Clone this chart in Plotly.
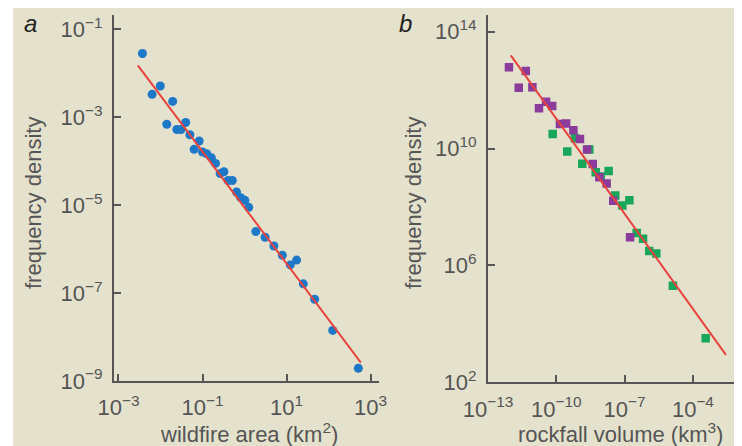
import plotly.graph_objects as go

# ---- Data (log10 values) ----
wildfire_log_area = [-2.43, -2.20, -2.005, -1.71, -1.85, -1.61, -1.51, -1.40, -1.30, -1.08,
                     -1.20, -1.00, -0.90, -0.79, -0.69, -0.58, -0.49, -0.39, -0.29, -0.19,
                     -0.09, 0.01, 0.10, 0.27, 0.49, 0.70, 0.90, 1.09, 1.24, 1.40,
                     1.67, 2.10, 2.71]
wildfire_log_density = [-1.55, -2.48, -2.29, -2.64, -3.16, -3.28, -3.28, -3.12, -3.40, -3.54,
                        -3.73, -3.79, -3.83, -3.92, -4.05, -4.28, -4.24, -4.44, -4.44, -4.70,
                        -4.83, -4.89, -5.05, -5.60, -5.73, -5.93, -6.14, -6.36, -6.25, -6.79,
                        -7.14, -7.85, -8.71]
wildfire_fit_log_area = [-2.54, 2.77]
wildfire_fit_log_density = [-1.82, -8.58]

rock_purple_log_vol = [-12.08, -11.65, -11.34, -11.05, -10.76, -10.45, -10.18, -9.84, -9.57,
                       -9.25, -8.96, -8.65, -8.40, -8.11, -7.79, -7.50, -6.76]
rock_purple_log_density = [12.78, 12.08, 12.65, 12.10, 11.38, 11.60, 11.46, 10.84, 10.86,
                           10.63, 10.33, 9.97, 9.47, 9.02, 8.80, 8.21, 6.96]
rock_green_log_vol = [-10.16, -9.52, -9.18, -8.86, -8.55, -8.27, -8.05, -7.70, -7.41, -7.10,
                      -6.79, -6.47, -6.19, -5.92, -5.61, -4.88, -3.44]
rock_green_log_density = [10.50, 9.90, 10.35, 9.48, 9.97, 9.19, 9.04, 9.23, 8.39, 8.05,
                          8.23, 7.11, 6.91, 6.49, 6.41, 5.30, 3.51]
rock_fit_log_vol = [-12.00, -2.55]
rock_fit_log_density = [13.19, 2.94]

a_xtick_exp = [-3, -1, 1, 3]
a_ytick_exp = [-1, -3, -5, -7, -9]
b_xtick_exp = [-13, -10, -7, -4]
b_ytick_exp = [14, 10, 6, 2]

# ---- Styling ----
PAGE_W, PAGE_H = 742, 446
OFF = 8  # default page body margin
W, H = PAGE_W - OFF, PAGE_H - OFF
BG = "#e4e2cd"
GREY = "#555555"
FONT = "Liberation Sans"
BLUE = "#1e78c8"
PURPLE = "#8a3b9c"
GREEN = "#18a65a"
RED = "#e8423c"


def pw(px):
    return (px - OFF) / W


def ph(py):
    return 1 - (py - OFF) / H


def pow_lbl(e):
    s = str(e).replace("-", "\u2212")
    return f"10<sup>{s}</sup>"


def tenpow(v):
    return [10 ** x for x in v]


fig = go.Figure()

fig.add_trace(go.Scatter(x=tenpow(wildfire_log_area), y=tenpow(wildfire_log_density),
                         mode="markers", marker=dict(color=BLUE, size=9, symbol="circle"),
                         xaxis="x", yaxis="y", showlegend=False))
fig.add_trace(go.Scatter(x=tenpow(wildfire_fit_log_area), y=tenpow(wildfire_fit_log_density),
                         mode="lines", line=dict(color=RED, width=2),
                         xaxis="x", yaxis="y", showlegend=False))

fig.add_trace(go.Scatter(x=tenpow(rock_green_log_vol), y=tenpow(rock_green_log_density),
                         mode="markers", marker=dict(color=GREEN, size=8.5, symbol="square"),
                         xaxis="x2", yaxis="y2", showlegend=False))
fig.add_trace(go.Scatter(x=tenpow(rock_purple_log_vol), y=tenpow(rock_purple_log_density),
                         mode="markers", marker=dict(color=PURPLE, size=8.5, symbol="square"),
                         xaxis="x2", yaxis="y2", showlegend=False))
fig.add_trace(go.Scatter(x=tenpow(rock_fit_log_vol), y=tenpow(rock_fit_log_density),
                         mode="lines", line=dict(color=RED, width=2),
                         xaxis="x2", yaxis="y2", showlegend=False))

axis_common = dict(type="log", showgrid=False, zeroline=False, showline=True,
                   linecolor=GREY, linewidth=2, ticks="inside", ticklen=7,
                   tickwidth=1.5, tickcolor=GREY, automargin=False,
                   tickfont=dict(family=FONT, size=22, color=GREY))

fig.update_layout(
    width=W, height=H,
    margin=dict(l=0, r=0, t=0, b=0, pad=0, autoexpand=False),
    showlegend=False,
    paper_bgcolor=BG, plot_bgcolor=BG,
    xaxis=dict(axis_common, domain=[pw(114), pw(379)], range=[-3.107, 3.202],
               tickvals=tenpow(a_xtick_exp), ticktext=[pow_lbl(e) for e in a_xtick_exp],
               anchor="y", ticklabelstandoff=6),
    yaxis=dict(axis_common, domain=[ph(381), ph(15)], range=[-9, -0.675],
               tickvals=tenpow(a_ytick_exp), ticktext=[pow_lbl(e) for e in a_ytick_exp],
               anchor="x", ticklabelstandoff=5),
    xaxis2=dict(axis_common, domain=[pw(488), 1.0], range=[-13, -1.845],
                tickvals=tenpow(b_xtick_exp), ticktext=[pow_lbl(e) for e in b_xtick_exp],
                anchor="y2", ticklabelstandoff=6),
    yaxis2=dict(axis_common, domain=[ph(382.3), ph(15)], range=[2, 14.57],
                tickvals=tenpow(b_ytick_exp), ticktext=[pow_lbl(e) for e in b_ytick_exp],
                anchor="x2", ticklabelstandoff=5),
    shapes=[dict(type="rect", xref="paper", yref="paper", x0=0, x1=pw(13), y0=0, y1=1,
                 fillcolor="white", line=dict(width=0), layer="below")],
)

ann_font = dict(family=FONT, size=22, color=GREY)
letter_font = dict(family=FONT, size=24, color="#222222")
annotations = [
    dict(text="wildfire area (km<sup>2</sup>)", x=pw(249), y=ph(433), xref="paper", yref="paper",
         showarrow=False, font=ann_font, xanchor="center", yanchor="middle"),
    dict(text="rockfall volume (km<sup>3</sup>)", x=pw(620), y=ph(433), xref="paper", yref="paper",
         showarrow=False, font=ann_font, xanchor="center", yanchor="middle"),
    dict(text="frequency density", x=pw(33), y=ph(203), xref="paper", yref="paper",
         showarrow=False, font=ann_font, textangle=-90, xanchor="center", yanchor="middle"),
    dict(text="frequency density", x=pw(413), y=ph(203), xref="paper", yref="paper",
         showarrow=False, font=ann_font, textangle=-90, xanchor="center", yanchor="middle"),
    dict(text="<i>a</i>", x=pw(30), y=ph(8), xref="paper", yref="paper",
         showarrow=False, font=letter_font, xanchor="center", yanchor="top"),
    dict(text="<i>b</i>", x=pw(405), y=ph(8), xref="paper", yref="paper",
         showarrow=False, font=letter_font, xanchor="center", yanchor="top"),
]
fig.update_layout(annotations=annotations)

fig.write_html("out.html")
